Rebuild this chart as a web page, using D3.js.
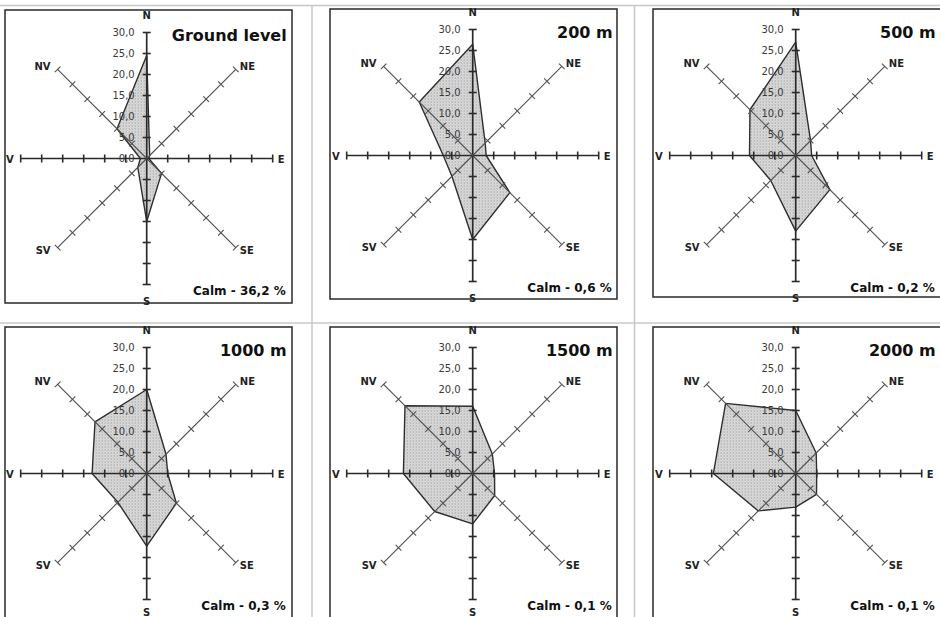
<!DOCTYPE html>
<html><head><meta charset="utf-8">
<script src="https://cdn.jsdelivr.net/npm/d3@7"></script>
<style>body{margin:0;background:#fff}svg{display:block}</style>
</head><body><svg id="c" width="940" height="617"></svg>
<script>
const directions = ["N","NE","E","SE","S","SV","V","NV"];
const levels = ["Ground level","200 m","500 m","1000 m","1500 m","2000 m"];
const calm = ["Calm - 36,2 %","Calm - 0,6 %","Calm - 0,2 %","Calm - 0,3 %","Calm - 0,1 %","Calm - 0,1 %"];
const groundLevel = [24.5, 1.0, 0.5, 5.0, 15.0, 3.0, 1.5, 10.0];
const m200  = [26.5, 4.2, 3.2, 12.5, 20.0, 7.0, 7.0, 18.0];
const m500  = [27.0, 5.0, 3.8, 11.5, 18.0, 8.4, 11.0, 15.4];
const m1000 = [20.0, 6.5, 5.0, 10.0, 17.3, 9.7, 13.0, 17.4];
const m1500 = [16.0, 6.6, 5.2, 7.4, 12.0, 12.8, 16.5, 22.8];
const m2000 = [15.0, 6.9, 5.0, 7.0, 8.0, 12.6, 19.6, 23.6];
const tickValues = [0, 5, 10, 15, 20, 25, 30];
const tickLabels = ["0,0","5,0","10,0","15,0","20,0","25,0","30,0"];

const series = [groundLevel, m200, m500, m1000, m1500, m2000];

// layout
const R = 126;
const layout = [
  {cx:146.7, cy:158.5, fx:5,   fy:10, fw:287, fh:293},
  {cx:472.7, cy:155.5, fx:330, fy:9,  fw:287, fh:290},
  {cx:795.7, cy:155.5, fx:653, fy:9,  fw:300, fh:288},
  {cx:146.7, cy:473.5, fx:5,   fy:327, fw:287, fh:300},
  {cx:472.7, cy:473.5, fx:330, fy:327, fw:287, fh:300},
  {cx:795.7, cy:473.5, fx:653, fy:327, fw:300, fh:300}
];

const svg = d3.select("#c");
const defs = svg.append("defs");
const pat = defs.append("pattern").attr("id","dots").attr("patternUnits","userSpaceOnUse")
  .attr("width",3).attr("height",3);
pat.append("rect").attr("width",3).attr("height",3).attr("fill","#e0e0e0");
pat.append("rect").attr("x",0).attr("y",0).attr("width",1).attr("height",1).attr("fill","#808080");
pat.append("rect").attr("x",1.5).attr("y",1.5).attr("width",1).attr("height",1).attr("fill","#a0a0a0");

// table grid lines
const grid = svg.append("g").attr("stroke","#c8c8c8").attr("stroke-width",1.5);
grid.append("line").attr("x1",0).attr("x2",940).attr("y1",5.5).attr("y2",5.5);
grid.append("line").attr("x1",0).attr("x2",940).attr("y1",323).attr("y2",323);
grid.append("line").attr("x1",312).attr("x2",312).attr("y1",5).attr("y2",617);
grid.append("line").attr("x1",634.5).attr("x2",634.5).attr("y1",5).attr("y2",617);

const r = d3.scaleLinear().domain([0, 30]).range([0, R]);
const yArm = d3.scaleLinear().domain([0, 30]).range([0, -R]);

const radial = d3.lineRadial()
  .angle((d, i) => i * Math.PI / 4)
  .radius(d => r(d))
  .curve(d3.curveLinearClosed);

series.forEach((vals, p) => {
  const L = layout[p];
  const g = svg.append("g");
  g.append("rect").attr("x",L.fx).attr("y",L.fy).attr("width",L.fw).attr("height",L.fh)
    .attr("fill","#fff").attr("stroke","#2a2a2a").attr("stroke-width",1.5);

  const c = g.append("g").attr("transform",`translate(${L.cx},${L.cy})`);

  // polygon
  c.append("path").attr("d", radial(vals))
    .attr("fill","url(#dots)").attr("stroke","#2e2e2e").attr("stroke-width",1.4)
    .attr("stroke-linejoin","round");

  // arms
  directions.forEach((dir, i) => {
    const main = i % 2 === 0;
    const arm = c.append("g").attr("transform",`rotate(${i*45})`);
    arm.append("line").attr("x1",0).attr("y1",0).attr("x2",0).attr("y2",yArm(30))
      .attr("stroke", main ? "#2a2a2a" : "#505050").attr("stroke-width", main ? 1.7 : 1.1);
    arm.selectAll("line.t").data(tickValues.filter(v => v > 0)).enter().append("line")
      .attr("class","t")
      .attr("x1",-4).attr("x2",4).attr("y1",d=>yArm(d)).attr("y2",d=>yArm(d))
      .attr("stroke", main ? "#2a2a2a" : "#505050").attr("stroke-width", main ? 1.6 : 1.1);
  });

  // N axis labels
  c.selectAll("text.tl").data(tickValues).enter().append("text")
    .attr("class","tl")
    .attr("x",-12).attr("y",d=>yArm(d)).attr("dy","0.36em")
    .attr("text-anchor","end")
    .attr("font-family","DejaVu Sans, sans-serif").attr("font-size",10)
    .attr("fill","#3a3a3a")
    .text((d,i)=>tickLabels[i]);

  // direction labels
  const e = r(30) * Math.SQRT1_2;
  const sY = Math.min(R + 20, 615.5 - L.cy);
  const dirPos = {
    N:  {x:0, y:-R-14, a:"middle"},
    NE: {x:e+4, y:-e+0.5, a:"start"},
    E:  {x:R+5, y:4, a:"start"},
    SE: {x:e+4, y:e+6, a:"start"},
    S:  {x:0, y:sY, a:"middle"},
    SV: {x:-e-7, y:e+6, a:"end"},
    V:  {x:-R-7, y:4, a:"end"},
    NV: {x:-e-7, y:-e+0.5, a:"end"}
  };
  directions.forEach(dir => {
    const q = dirPos[dir];
    c.append("text").attr("x",q.x).attr("y",q.y).attr("text-anchor",q.a)
      .attr("font-family","DejaVu Sans, sans-serif").attr("font-weight","bold")
      .attr("font-size",10).attr("fill","#222").text(dir);
  });

  // title
  c.append("text").attr("x",140).attr("y",-118).attr("text-anchor","end")
    .attr("font-family","DejaVu Sans, sans-serif").attr("font-weight","bold")
    .attr("font-size",16).attr("fill","#111").text(levels[p]);

  // calm
  c.append("text").attr("x",139).attr("y",136).attr("text-anchor","end")
    .attr("font-family","DejaVu Sans, sans-serif").attr("font-weight","bold")
    .attr("font-size",12).attr("fill","#111").text(calm[p]);
});
</script></body></html>
